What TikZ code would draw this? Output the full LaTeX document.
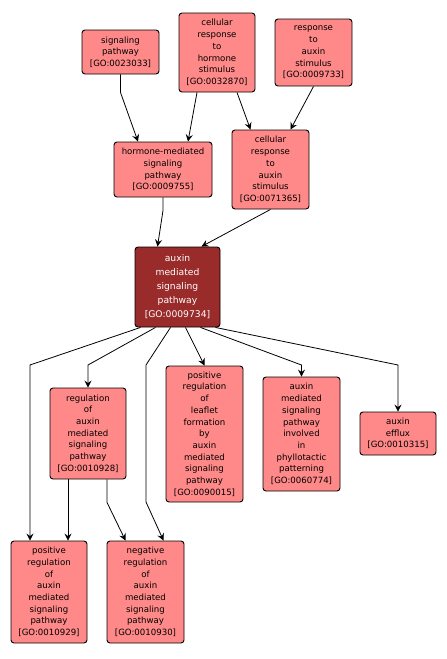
\documentclass[tikz,border=0pt]{standalone}
\usepackage{fontspec}
\setmainfont{DejaVu Sans}
\usetikzlibrary{arrows.meta}
\definecolor{gofill}{RGB}{255,137,137}
\definecolor{godark}{RGB}{154,43,43}
\begin{document}
\begin{tikzpicture}[x=1pt,y=-1pt,
  go/.style={draw=black,line width=0.9pt,fill=gofill,rounded corners=3pt,
    align=center,inner sep=0pt,font=\fontsize{8.6}{11.7}\selectfont},
  godk/.style={go,fill=godark,text=white,font=\fontsize{9.2}{14}\selectfont},
  edge/.style={draw=black,line width=0.8pt,-{Stealth[length=7pt,width=7pt,inset=2.5pt]}}]
\useasboundingbox (0,0) rectangle (447,659);
\node[go,minimum width=77pt,minimum height=44pt] (sig) at (120.5,52) {signaling\\pathway\\{[GO:0023033]}};
\node[go,minimum width=76pt,minimum height=79pt] (crh) at (217,52.5) {cellular\\response\\to\\hormone\\stimulus\\{[GO:0032870]}};
\node[go,minimum width=77pt,minimum height=67pt] (ras) at (313.5,52.5) {response\\to\\auxin\\stimulus\\{[GO:0009733]}};
\node[go,minimum width=98pt,minimum height=55pt] (hm) at (163,169.5) {hormone-mediated\\signaling\\pathway\\{[GO:0009755]}};
\node[go,minimum width=77pt,minimum height=79pt] (cra) at (270.5,169.5) {cellular\\response\\to\\auxin\\stimulus\\{[GO:0071365]}};
\node[godk,minimum width=85pt,minimum height=80pt] (dark) at (177.5,287) {auxin\\mediated\\signaling\\pathway\\{[GO:0009734]}};
\node[go,minimum width=76pt,minimum height=91pt] (reg) at (88,433.5) {regulation\\of\\auxin\\mediated\\signaling\\pathway\\{[GO:0010928]}};
\node[go,minimum width=77pt,minimum height=136pt] (leaf) at (204.5,434) {positive\\regulation\\of\\leaflet\\formation\\by\\auxin\\mediated\\signaling\\pathway\\{[GO:0090015]}};
\node[go,minimum width=77pt,minimum height=114pt] (phyl) at (301.5,434) {auxin\\mediated\\signaling\\pathway\\involved\\in\\phyllotactic\\patterning\\{[GO:0060774]}};
\node[go,minimum width=76pt,minimum height=43pt] (eff) at (398,433.5) {auxin\\efflux\\{[GO:0010315]}};
\node[go,minimum width=76pt,minimum height=102pt] (pos) at (49,592) {positive\\regulation\\of\\auxin\\mediated\\signaling\\pathway\\{[GO:0010929]}};
\node[go,minimum width=77pt,minimum height=102pt] (neg) at (145.5,592) {negative\\regulation\\of\\auxin\\mediated\\signaling\\pathway\\{[GO:0010930]}};
\draw[edge] (sig.south) -- ++(0,18) -- ([xshift=-25pt]hm.north);
\draw[edge] ([xshift=-20pt]crh.south) -- ([xshift=25pt]hm.north);
\draw[edge] ([xshift=20pt]crh.south) -- ([xshift=-20pt]cra.north);
\draw[edge] (ras.south) -- ([xshift=20pt]cra.north);
\draw[edge] (hm.south) -- ++(0,13) -- ([xshift=-20pt]dark.north);
\draw[edge] (cra.south) -- ([xshift=24pt]dark.north);
\draw[edge] ([xshift=-37pt]dark.south) -- (30,365) -- ([xshift=-19pt]pos.north);
\draw[edge] ([xshift=-22pt]dark.south) -- (88,365) -- (reg.north);
\draw[edge] ([xshift=-7pt]dark.south) -- (146,365) -- (146,502) -- ([xshift=18pt]neg.north);
\draw[edge] ([xshift=8pt]dark.south) -- (leaf.north);
\draw[edge] ([xshift=23pt]dark.south) -- (301.5,365) -- (phyl.north);
\draw[edge] ([xshift=38pt]dark.south) -- (398,365) -- (eff.north);
\draw[edge] ([xshift=-20pt]reg.south) -- ([xshift=19pt]pos.north);
\draw[edge] ([xshift=19pt]reg.south) -- ++(0,23) -- ([xshift=-20pt]neg.north);
\end{tikzpicture}
\end{document}
